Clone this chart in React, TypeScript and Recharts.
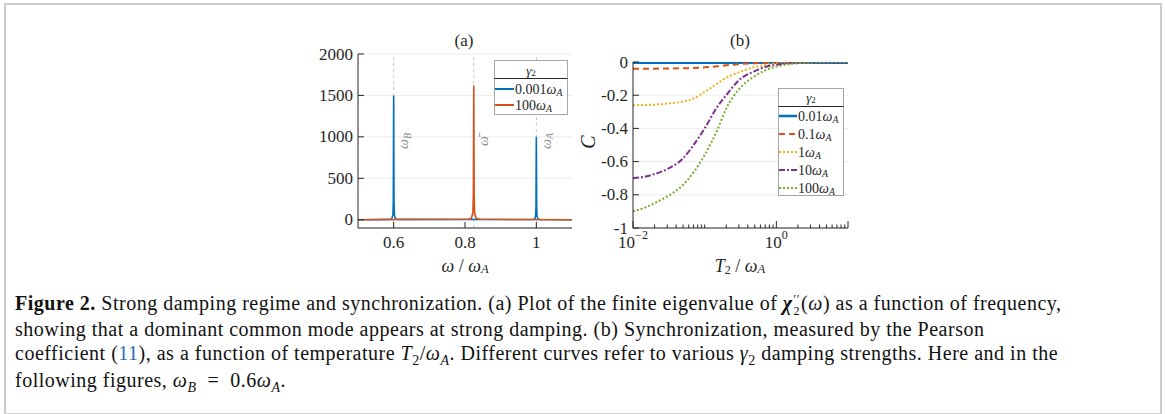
import React from "react";
import { LineChart, Line, XAxis, YAxis, CartesianGrid, ReferenceLine } from "recharts";

// panel (a): spectrum peaks
const blueX = [0.5, 0.59, 0.595, 0.598, 0.599, 0.6, 0.601, 0.602, 0.605, 0.61, 0.99, 0.995, 0.998, 0.999, 1.0, 1.001, 1.002, 1.005, 1.01, 1.1];
const blueY = [0, 4, 12, 60, 220, 1500, 220, 60, 12, 4, 3, 8, 40, 150, 1000, 150, 40, 8, 3, 0];
const orangeX = [0.5, 0.81, 0.818, 0.822, 0.8235, 0.8246, 0.8257, 0.827, 0.831, 0.84, 1.1];
const orangeY = [0, 5, 20, 80, 300, 1620, 300, 80, 20, 5, 0];
const peakMarks = [
  { x: 0.6, sym: "B" },
  { x: 0.8246, sym: "bar" },
  { x: 1.0, sym: "A" },
];
const aXTicks = [0.6, 0.8, 1];
const aYTicks = [0, 500, 1000, 1500, 2000];

// panel (b): Pearson coefficient vs temperature
const temps = [0.01, 0.015, 0.02, 0.03, 0.05, 0.07, 0.1, 0.15, 0.2, 0.3, 0.5, 0.7, 1, 1.5, 2, 3, 5, 10];
const c001 = [-0.004, -0.004, -0.004, -0.004, -0.004, -0.004, -0.004, -0.004, -0.004, -0.004, -0.004, -0.004, -0.004, -0.004, -0.004, -0.004, -0.004, -0.004];
const c01 = [-0.04, -0.04, -0.04, -0.039, -0.038, -0.036, -0.032, -0.026, -0.02, -0.013, -0.007, -0.004, -0.002, -0.001, 0, 0, 0, 0];
const c1 = [-0.26, -0.259, -0.257, -0.25, -0.237, -0.22, -0.18, -0.13, -0.095, -0.062, -0.03, -0.018, -0.01, -0.005, -0.003, -0.001, 0, 0];
const c10 = [-0.7, -0.69, -0.675, -0.645, -0.58, -0.5, -0.4, -0.27, -0.2, -0.11, -0.055, -0.03, -0.017, -0.008, -0.004, -0.002, -0.001, 0];
const c100 = [-0.9, -0.875, -0.85, -0.81, -0.74, -0.665, -0.56, -0.41, -0.28, -0.165, -0.085, -0.05, -0.028, -0.013, -0.007, -0.003, -0.001, 0];
const bLogTicks = [0.01, 0.02, 0.03, 0.04, 0.05, 0.06, 0.07, 0.08, 0.09, 0.1, 0.2, 0.3, 0.4, 0.5, 0.6, 0.7, 0.8, 0.9, 1, 2, 3, 4, 5, 6, 7, 8, 9, 10];
const bMajor = [0.01, 1, 10];
const bYTicks = [-1, -0.8, -0.6, -0.4, -0.2, 0];

const series = [
  { key: "c001", name: "0.01", color: "#0072BD", width: 2.5, dash: undefined },
  { key: "c01", name: "0.1", color: "#D95319", width: 2, dash: "6 4" },
  { key: "c1", name: "1", color: "#EDB120", width: 2, dash: "2 2" },
  { key: "c10", name: "10", color: "#7E2F8E", width: 2, dash: "6 2 2 2" },
  { key: "c100", name: "100", color: "#77AC30", width: 2, dash: "2 2" },
];

const blueData = blueX.map((x, i) => ({ x, y: blueY[i] }));
const orangeData = orangeX.map((x, i) => ({ x, y: orangeY[i] }));
const bData = temps.map((T, i) => ({ T, c001: c001[i], c01: c01[i], c1: c1[i], c10: c10[i], c100: c100[i] }));

const SERIF = '"Liberation Serif", "DejaVu Serif", serif';
const INK = "#262626";

const makeTick = (side: string, len: (v: number) => number, label?: (v: number) => React.ReactNode) => (p: any) => {
  const v = p.payload.value;
  const { x, y } = p;
  const L = len(v);
  let line;
  if (side === "bottom") line = <line x1={x} x2={x} y1={y} y2={y - L} stroke={INK} />;
  else if (side === "top") line = <line x1={x} x2={x} y1={y} y2={y + L} stroke={INK} />;
  else if (side === "left") line = <line x1={x} x2={x + L} y1={y} y2={y} stroke={INK} />;
  else line = <line x1={x} x2={x - L} y1={y} y2={y} stroke={INK} />;
  const txt = label ? label(v) : null;
  return (
    <g>
      {line}
      {txt !== null && side === "bottom" && (
        <text x={x} y={y + 14} textAnchor="middle" dominantBaseline="central" fontFamily={SERIF} fontSize={17} fill={INK}>
          {txt}
        </text>
      )}
      {txt !== null && side === "left" && (
        <text x={x - 5} y={y} textAnchor="end" dominantBaseline="central" fontFamily={SERIF} fontSize={17} fill={INK}>
          {txt}
        </text>
      )}
    </g>
  );
};

const PeakLabel = (props: any) => {
  const { viewBox, sym } = props;
  const cx = viewBox.x + 10;
  const cy = viewBox.y + viewBox.height * 0.5;
  return (
    <text x={cx} y={cy} transform={`rotate(-90 ${cx} ${cy})`} textAnchor="middle" dominantBaseline="central" fill="#8c8c8c" fontFamily={SERIF} fontSize={14} fontStyle="italic">
      {sym === "bar" ? "ω\u0304" : "ω"}
      {sym !== "bar" && (
        <tspan fontSize={10} dy={3}>
          {sym}
        </tspan>
      )}
    </text>
  );
};

const OmA = ({ size = 14 }: { size?: number }) => (
  <>
    <tspan fontStyle="italic">ω</tspan>
    <tspan fontStyle="italic" fontSize={size * 0.7} dy={3}>
      A
    </tspan>
  </>
);

const PanelA = () => (
  <LineChart width={290} height={265} margin={{ top: 34, right: 18, bottom: 17, left: 8 }}>
    <CartesianGrid vertical={false} stroke="#ececec" />
    <XAxis dataKey="x" type="number" domain={[0.5, 1.1]} ticks={aXTicks} interval={0} allowDataOverflow height={40} tickSize={0} tickMargin={0} tickLine={false} axisLine={{ stroke: INK }} tick={makeTick("bottom", () => 6, (v) => String(v))} />
    <XAxis xAxisId="top" orientation="top" dataKey="x" type="number" domain={[0.5, 1.1]} ticks={aXTicks} interval={0} height={0} tickSize={0} tickMargin={0} tickLine={false} axisLine={{ stroke: INK }} tick={makeTick("top", () => 6)} />
    <YAxis type="number" domain={[-100, 2000]} ticks={aYTicks} interval={0} allowDataOverflow width={50} tickSize={0} tickMargin={0} tickLine={false} axisLine={{ stroke: INK }} tick={makeTick("left", () => 6, (v) => String(v))} />
    <YAxis yAxisId="right" orientation="right" type="number" domain={[-100, 2000]} ticks={aYTicks} interval={0} width={0} tickSize={0} tickMargin={0} tickLine={false} axisLine={{ stroke: INK }} tick={makeTick("right", () => 6)} />
    {peakMarks.map((m) => (
      <ReferenceLine key={m.sym} x={m.x} stroke="#c4c4c4" strokeDasharray="3 3" label={<PeakLabel sym={m.sym} />} />
    ))}
    <Line data={blueData} dataKey="y" type="linear" stroke="#0072BD" strokeWidth={1.6} dot={false} isAnimationActive={false} />
    <Line data={orangeData} dataKey="y" type="linear" stroke="#D95319" strokeWidth={1.6} dot={false} isAnimationActive={false} />
  </LineChart>
);

const PanelB = () => (
  <LineChart width={275} height={265} data={bData} margin={{ top: 42, right: 17, bottom: 17, left: 3 }}>
    <CartesianGrid vertical={false} stroke="#ececec" />
    <XAxis dataKey="T" type="number" scale="log" domain={[0.01, 10]} ticks={bLogTicks} interval={0} allowDataOverflow height={40} tickSize={0} tickMargin={0} tickLine={false} axisLine={{ stroke: INK }}
      tick={makeTick("bottom", (v) => (bMajor.includes(v) ? 7 : 3.5), (v) => (v === 0.01 ? <>10<tspan fontSize={12} dy={-7}>−2</tspan></> : v === 1 ? <>10<tspan fontSize={12} dy={-7}>0</tspan></> : null))} />
    <XAxis xAxisId="top" orientation="top" dataKey="T" type="number" scale="log" domain={[0.01, 10]} ticks={bLogTicks} interval={0} allowDataOverflow height={0} tickSize={0} tickMargin={0} tickLine={false} axisLine={{ stroke: INK }} tick={makeTick("top", (v) => (bMajor.includes(v) ? 7 : 3.5))} />
    <YAxis type="number" domain={[-1, 0]} ticks={bYTicks} interval={0} allowDataOverflow width={40} tickSize={0} tickMargin={0} tickLine={false} axisLine={{ stroke: INK }} tick={makeTick("left", () => 6, (v) => (v === 0 ? "0" : String(v)))} />
    <YAxis yAxisId="right" orientation="right" type="number" domain={[-1, 0]} ticks={bYTicks} interval={0} width={0} tickSize={0} tickMargin={0} tickLine={false} axisLine={{ stroke: INK }} tick={makeTick("right", () => 6)} />
    {series.map((s) => (
      <Line key={s.key} dataKey={s.key} type="monotone" stroke={s.color} strokeWidth={s.width} strokeDasharray={s.dash} dot={false} isAnimationActive={false} />
    ))}
  </LineChart>
);

const Sub = ({ children, italic = true }: { children: React.ReactNode; italic?: boolean }) => (
  <span style={{ fontSize: "0.7em", position: "relative", top: "0.3em", fontStyle: italic ? "italic" : "normal" }}>{children}</span>
);

export default function App() {
  return (
    <div style={{ position: "absolute", left: 0, top: 0, width: 1165, height: 414, background: "#fff", overflow: "hidden" }}>
      <div style={{ position: "absolute", left: 4, top: 3, width: 1158, height: 412, border: "2px solid #cccccc", boxSizing: "border-box" }} />
      <div style={{ position: "absolute", left: 300, top: 20 }}>
        <PanelA />
      </div>
      <div style={{ position: "absolute", left: 590, top: 20 }}>
        <PanelB />
      </div>
      <svg width={1165} height={414} style={{ position: "absolute", left: 0, top: 0, pointerEvents: "none" }} fontFamily={SERIF} fill={INK}>
        <text x={464} y={40} textAnchor="middle" dominantBaseline="central" fontSize={17}>(a)</text>
        <text x={740} y={40} textAnchor="middle" dominantBaseline="central" fontSize={17}>(b)</text>
        <text x={465} y={266} textAnchor="middle" dominantBaseline="central" fontSize={18}>
          <tspan fontStyle="italic">ω</tspan> / <OmA size={18} />
        </text>
        <text x={740} y={266} textAnchor="middle" dominantBaseline="central" fontSize={18}>
          <tspan fontStyle="italic">T</tspan>
          <tspan fontSize={12} dy={4}>2</tspan>
          <tspan dy={-4}> / </tspan>
          <OmA size={18} />
        </text>
        <text x={588} y={142} textAnchor="middle" dominantBaseline="central" fontSize={20} fontStyle="italic" transform="rotate(-90 588 142)">C</text>

        {/* legend (a) */}
        <rect x={494.5} y={60.5} width={73} height={54} fill="#fff" stroke="#a6a6a6" />
        <text x={531} y={70} textAnchor="middle" dominantBaseline="central" fontSize={13}>
          <tspan fontStyle="italic">γ</tspan>
          <tspan fontSize={9} dy={3}>2</tspan>
        </text>
        <line x1={494.5} x2={567.5} y1={78.5} y2={78.5} stroke={INK} />
        {[{ c: "#0072BD", t: "0.001", y: 89 }, { c: "#D95319", t: "100", y: 105 }].map((e) => (
          <g key={e.t}>
            <line x1={495} x2={514} y1={e.y} y2={e.y} stroke={e.c} strokeWidth={2} />
            <text x={515} y={e.y} dominantBaseline="central" fontSize={14}>
              {e.t}
              <OmA />
            </text>
          </g>
        ))}

        {/* legend (b) */}
        <rect x={778.5} y={88.5} width={65} height={107} fill="#fff" stroke="#a6a6a6" />
        <text x={811} y={97} textAnchor="middle" dominantBaseline="central" fontSize={13}>
          <tspan fontStyle="italic">γ</tspan>
          <tspan fontSize={9} dy={3}>2</tspan>
        </text>
        <line x1={778.5} x2={843.5} y1={106.5} y2={106.5} stroke={INK} />
        {series.map((s, i) => (
          <g key={s.key}>
            <line x1={779} x2={797} y1={116 + i * 18} y2={116 + i * 18} stroke={s.color} strokeWidth={s.width} strokeDasharray={s.dash} />
            <text x={798} y={116 + i * 18} dominantBaseline="central" fontSize={14}>
              {s.name}
              <OmA />
            </text>
          </g>
        ))}
      </svg>

      <div style={{ position: "absolute", left: 15, top: 291, fontFamily: SERIF, fontSize: 20, letterSpacing: "0.5px", lineHeight: "24px", whiteSpace: "nowrap", color: "#111" }}>
        <div>
          <b>Figure 2.</b> Strong damping regime and synchronization. (a) Plot of the finite eigenvalue of{" "}
          <b><i>χ</i></b>
          <span style={{ display: "inline-flex", flexDirection: "column", verticalAlign: "middle", lineHeight: "12px", fontSize: "0.6em", margin: "0 1px" }}>
            <span>′′</span>
            <span>2</span>
          </span>
          (<i>ω</i>) as a function of frequency,
        </div>
        <div>showing that a dominant common mode appears at strong damping. (b) Synchronization, measured by the Pearson</div>
        <div>
          coefficient (<span style={{ color: "#2a6cb8" }}>11</span>), as a function of temperature <i>T</i>
          <Sub italic={false}>2</Sub>/<i>ω</i>
          <Sub>A</Sub>. Different curves refer to various <i>γ</i>
          <Sub italic={false}>2</Sub> damping strengths. Here and in the
        </div>
        <div>
          following figures, <i>ω</i>
          <Sub>B</Sub>&nbsp;&nbsp;=&nbsp;&nbsp;0.6<i>ω</i>
          <Sub>A</Sub>.
        </div>
      </div>
    </div>
  );
}
